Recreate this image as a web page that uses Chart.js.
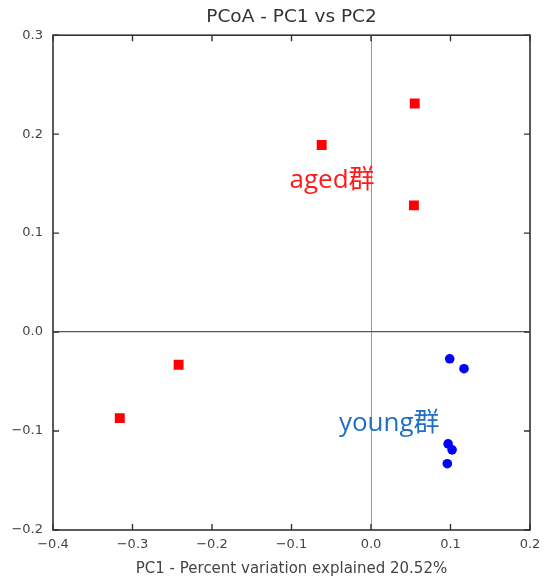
<!DOCTYPE html>
<html>
<head>
<meta charset="utf-8">
<script src="https://cdn.jsdelivr.net/npm/chart.js@4/dist/chart.umd.min.js"></script>
<style>
  html, body { margin: 0; padding: 0; background: #fff; }
  #wrap { width: 544px; height: 582px; }
</style>
</head>
<body>
<div id="wrap"><canvas id="myChart"></canvas></div>
<script>
// PC1 / PC2 coordinates
var agedX = [0.055, -0.062, 0.054, -0.242, -0.316];
var agedY = [0.231, 0.189, 0.128, -0.033, -0.087];
var youngX = [0.099, 0.117, 0.097, 0.102, 0.096];
var youngY = [-0.027, -0.037, -0.113, -0.119, -0.133];

var xTicks = [-0.4, -0.3, -0.2, -0.1, 0.0, 0.1, 0.2];
var yTicks = [-0.2, -0.1, 0.0, 0.1, 0.2, 0.3];

// group labels placed in data space
var groupLabels = [
  { text: 'aged群', x: -0.049, y: 0.153, color: '#ff1a1a' },
  { text: 'young群', x: 0.023, y: -0.092, color: '#1f6fc6' }
];

function toPoints(xs, ys) {
  return xs.map((x, i) => ({ x: x, y: ys[i] }));
}

function fmt(v) {
  if (Math.abs(v) < 1e-9) return '0.0';
  return v.toFixed(1).replace('-', '\u2212');
}

// frame, inward tick marks, group labels
var decor = {
  id: 'decor',
  afterDatasetsDraw(chart) {
    let ctx = chart.ctx;
    let a = chart.chartArea;
    let sx = chart.scales.x, sy = chart.scales.y;
    ctx.save();
    ctx.strokeStyle = '#333';
    ctx.lineWidth = 1.6;
    ctx.strokeRect(a.left, a.top, a.right - a.left, a.bottom - a.top);
    ctx.lineWidth = 1.4;
    ctx.beginPath();
    xTicks.forEach((t) => {
      let px = sx.getPixelForValue(t);
      ctx.moveTo(px, a.bottom); ctx.lineTo(px, a.bottom - 6);
      ctx.moveTo(px, a.top); ctx.lineTo(px, a.top + 6);
    });
    yTicks.forEach((t) => {
      let py = sy.getPixelForValue(t);
      ctx.moveTo(a.left, py); ctx.lineTo(a.left + 6, py);
      ctx.moveTo(a.right, py); ctx.lineTo(a.right - 6, py);
    });
    ctx.stroke();

    ctx.font = '26px "Open Sans", "Noto Sans CJK SC", sans-serif';
    ctx.textAlign = 'center';
    ctx.textBaseline = 'middle';
    groupLabels.forEach((g) => {
      ctx.fillStyle = g.color;
      ctx.fillText(g.text, sx.getPixelForValue(g.x), sy.getPixelForValue(g.y));
    });
    ctx.restore();
  }
};

var ctx = document.getElementById('myChart').getContext('2d');
var chartjs = new Chart(ctx, {
  type: 'scatter',
  data: {
    datasets: [{
      label: 'aged',
      data: toPoints(agedX, agedY),
      pointStyle: 'rect',
      pointRadius: 7,
      backgroundColor: '#ff0000',
      borderColor: '#ff0000',
      borderWidth: 0
    }, {
      label: 'young',
      data: toPoints(youngX, youngY),
      pointStyle: 'circle',
      pointRadius: 4.8,
      backgroundColor: '#0000ff',
      borderColor: '#0000ff',
      borderWidth: 0
    }]
  },
  options: {
    responsive: true,
    maintainAspectRatio: false,
    animation: false,
    layout: { padding: { left: 0, right: 14, top: 0, bottom: 0 } },
    plugins: {
      legend: { display: false },
      tooltip: { enabled: false },
      title: {
        display: true,
        fullSize: false,
        text: 'PCoA - PC1 vs PC2',
        color: '#333',
        font: { family: 'DejaVu Sans', size: 18.5, weight: 'normal' },
        padding: { top: 6, bottom: 7 }
      }
    },
    scales: {
      x: {
        type: 'linear',
        min: -0.4, max: 0.2,
        afterFit: (s) => { s.height = 52; s.paddingLeft = 0; s.paddingRight = 0; },
        afterBuildTicks: (s) => { s.ticks = xTicks.map((v) => ({ value: v })); },
        ticks: {
          padding: 7,
          color: '#444',
          font: { family: 'DejaVu Sans', size: 13 },
          maxRotation: 0,
          callback: (v) => fmt(v)
        },
        grid: {
          drawTicks: false,
          color: (c) => (c.tick && Math.abs(c.tick.value) < 1e-9 ? '#9a9a9a' : 'rgba(0,0,0,0)'),
          lineWidth: 1
        },
        border: { display: false },
        title: {
          display: true,
          text: 'PC1 - Percent variation explained 20.52%',
          color: '#444',
          font: { family: 'DejaVu Sans', size: 15 },
          padding: { top: 4, bottom: 4 }
        }
      },
      y: {
        type: 'linear',
        min: -0.2, max: 0.3,
        afterFit: (s) => { s.width = 53; s.paddingTop = 0; s.paddingBottom = 0; },
        afterBuildTicks: (s) => { s.ticks = yTicks.map((v) => ({ value: v })); },
        ticks: {
          padding: 10,
          color: '#444',
          font: { family: 'DejaVu Sans', size: 13 },
          callback: (v) => fmt(v)
        },
        grid: {
          drawTicks: false,
          color: (c) => (c.tick && Math.abs(c.tick.value) < 1e-9 ? '#555' : 'rgba(0,0,0,0)'),
          lineWidth: 1.3
        },
        border: { display: false }
      }
    }
  },
  plugins: [decor]
});
</script>
</body>
</html>
